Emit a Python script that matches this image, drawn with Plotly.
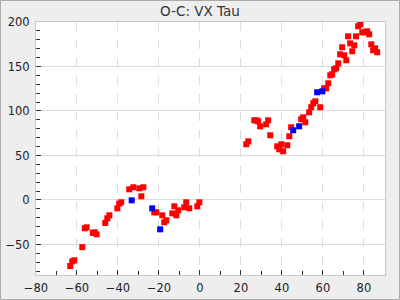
import plotly.graph_objects as go

red_x = [-63.3, -62.3, -61.3, -57.4, -56.2, -55.3, -52.3, -51.4, -50.4, -46.2, -45.2, -44.2,
         -40.3, -39.4, -38.4, -34.5, -32.5, -29.6, -27.6, -28.6, -22.3, -21.3, -18.4, -17.4,
         -16.4, -13.5, -12.5, -11.5, -10.6, -7.7, -6.7, -5.2, -1.3, -0.3,
         22.6, 23.6, 26.5, 27.5, 28.4, 29.4, 32.3, 33.3, 34.3, 37.7, 38.7, 39.7, 40.6, 42.6,
         43.6, 44.5, 49.4, 50.4, 51.4, 53.3, 54.3, 55.3, 56.3, 58.7,
         60.6, 61.6, 62.6, 63.6, 64.5, 65.5, 66.5, 67.5, 68.4, 69.4, 70.4, 71.4, 72.3, 73.3,
         74.3, 75.3, 76.2, 77.2, 78.2, 79.2, 80.6, 81.6, 82.6, 83.6, 84.5, 85.5, 86.5]
red_y = [-74.2, -69.0, -67.8, -53.0, -31.8, -30.7, -37.0, -36.3, -38.6, -25.8, -20.6, -17.2,
         -9.4, -4.1, -2.6, 12.0, 14.3, 13.1, 14.3, 4.1, -13.9, -13.9, -17.2, -25.0,
         -22.8, -15.0, -7.1, -17.2, -11.6, -8.2, -2.6, -9.3, -7.1, -2.6,
         62.6, 65.9, 89.5, 89.5, 88.4, 82.8, 85.0, 89.5, 72.7, 60.3, 57.0, 62.6, 54.7, 61.5,
         71.6, 81.7, 90.7, 92.9, 87.3, 98.5, 104.2, 108.7, 110.9, 104.2,
         125.5, 125.5, 131.1, 140.1, 141.2, 146.9, 148.0, 153.6, 163.7, 171.6, 162.6, 157.0, 183.9, 176.0,
         167.1, 173.8, 183.9, 195.2, 197.4, 188.4, 188.4, 189.5, 186.2, 174.9, 168.2, 170.4, 166.0]

blue_x = [-33.3, -23.3, -19.4, 45.5, 48.4, 57.2, 59.7]
blue_y = [-0.4, -9.4, -33.0, 78.3, 82.8, 121.0, 122.1]

title = "O-C: VX Tau"
x_range = [-80, 90.3]
y_range = [-84.3, 200]

fig = go.Figure()
fig.add_trace(go.Scatter(x=red_x, y=red_y, mode="markers",
                         marker=dict(symbol="square", size=6, color="#ff0000", line=dict(width=0))))
fig.add_trace(go.Scatter(x=blue_x, y=blue_y, mode="markers",
                         marker=dict(symbol="square", size=6, color="#0000ff", line=dict(width=0))))

axis_font = dict(family="DejaVu Sans", size=11.5, color="#222222")
fig.update_layout(
    width=400, height=300,
    margin=dict(l=36, r=15, t=22, b=25, autoexpand=False),
    paper_bgcolor="#eeeeee",
    plot_bgcolor="#ffffff",
    showlegend=False,
    title=dict(text=title, x=0.5, xanchor="center", y=1 - 11 / 300, yanchor="middle",
               font=dict(family="DejaVu Sans", size=13.5, color="#333333")),
    xaxis=dict(range=x_range, dtick=20, tick0=0, showgrid=True, gridcolor="#dddddd", griddash="dash",
               gridwidth=1, zeroline=False, ticks="inside", ticklen=5, tickcolor="#333333",
               showline=True, linecolor="#c8c8c8", mirror=True, tickfont=axis_font, automargin=False,
               ticklabelstandoff=2,
               minor=dict(dtick=10, ticks="inside", ticklen=4, tickcolor="#333333", showgrid=False)),
    yaxis=dict(range=y_range, dtick=50, tick0=0, showgrid=True, gridcolor="#dddddd", gridwidth=1,
               zeroline=False, ticks="inside", ticklen=5, tickcolor="#333333", automargin=False,
               showline=True, linecolor="#c8c8c8", mirror=True, tickfont=axis_font,
               ticklabelstandoff=3,
               minor=dict(dtick=10, ticks="inside", ticklen=4, tickcolor="#333333", showgrid=False)),
)

# outer border of the whole image
fig.add_shape(type="rect", xref="paper", yref="paper",
              x0=(0.5 - 36) / 349, x1=(399.5 - 36) / 349,
              y0=(275 - 299.5) / 253, y1=(275 - 0.5) / 253,
              line=dict(color="#aaaaaa", width=1), fillcolor="rgba(0,0,0,0)", layer="below")

fig.write_html("out.html")
